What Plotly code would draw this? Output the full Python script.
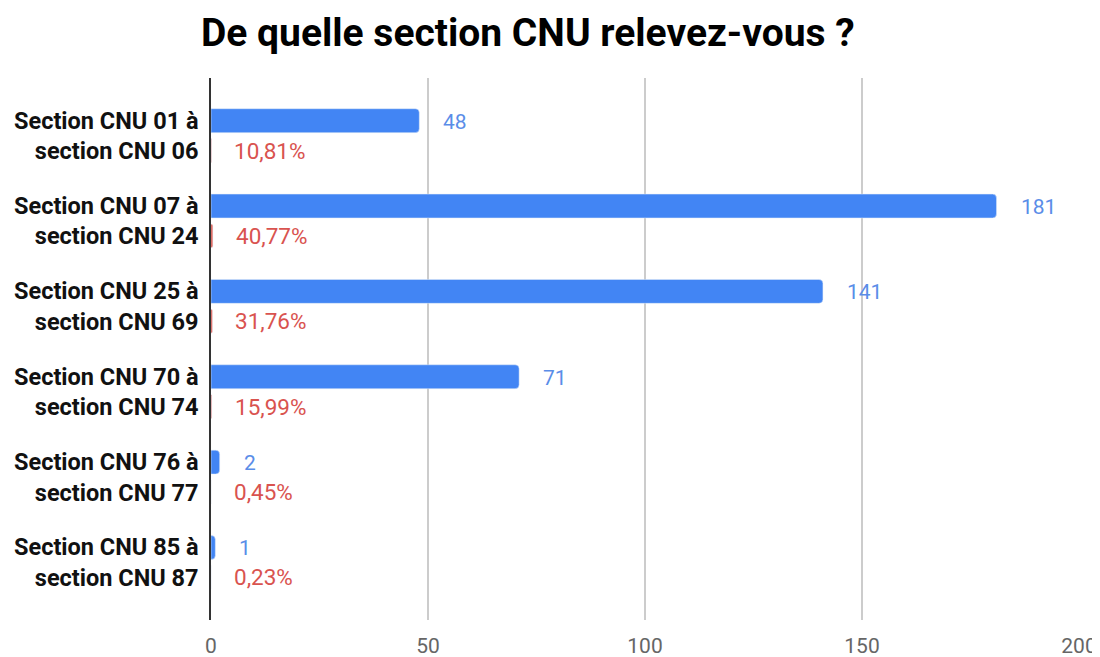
import plotly.graph_objects as go

categories = [
    "Section CNU 01 à<br>section CNU 06",
    "Section CNU 07 à<br>section CNU 24",
    "Section CNU 25 à<br>section CNU 69",
    "Section CNU 70 à<br>section CNU 74",
    "Section CNU 76 à<br>section CNU 77",
    "Section CNU 85 à<br>section CNU 87",
]
counts = [48, 181, 141, 71, 2, 1]
shares = [0.1081, 0.4077, 0.3176, 0.1599, 0.0045, 0.0023]
x_ticks = [0, 50, 100, 150, 200]

BLUE = "#4285f4"
RED = "#db4437"
BLUE_TXT = "#5a8de8"
RED_TXT = "#d9534f"

fig = go.Figure()
fig.add_trace(go.Bar(y=categories, x=counts, orientation="h", marker_color=BLUE,
                     name="Nombre", hoverinfo="x+y"))
fig.add_trace(go.Bar(y=categories, x=shares, orientation="h", marker_color=RED,
                     name="Pourcentage", hoverinfo="x+y"))

for c, v, s in zip(categories, counts, shares):
    fig.add_annotation(x=v, y=c, text=str(v), showarrow=False, xanchor="left",
                       xshift=22, yshift=14, font=dict(color=BLUE_TXT, size=21))
    fig.add_annotation(x=s, y=c, text=f"{s*100:.2f}%".replace(".", ","),
                       showarrow=False, xanchor="left", xshift=21, yshift=-15,
                       font=dict(color=RED_TXT, size=22.5))

fig.update_layout(
    width=1092, height=649,
    barmode="group", bargap=0.3, bargroupgap=0.2, barcornerradius=4,
    plot_bgcolor="white", paper_bgcolor="white",
    font=dict(family="Roboto", size=21, color="#222"),
    showlegend=False,
    margin=dict(l=203, r=21, t=70, b=37, autoexpand=False),
    title=dict(text="<b>De quelle section CNU relevez-vous ?</b>",
               x=0.476, xanchor="center", xref="container",
               y=0.963, yanchor="middle", yref="container",
               font=dict(size=39, color="#000", family="Roboto")),
    xaxis=dict(range=[0, 200], tickvals=x_ticks, showgrid=True, automargin=False,
               gridcolor="#cccccc", gridwidth=1.5, zeroline=False,
               ticks="outside", ticklen=7, tickcolor="rgba(0,0,0,0)",
               tickfont=dict(color="#666", size=21)),
    yaxis=dict(autorange=False, range=[5.675, -0.675], showline=True, automargin=False,
               linecolor="#333", linewidth=1.5, ticks="outside", ticklen=6,
               tickcolor="rgba(0,0,0,0)",
               tickfont=dict(family="Roboto", size=23.5, color="#111", weight="bold")),
)

fig.write_html("out.html")
